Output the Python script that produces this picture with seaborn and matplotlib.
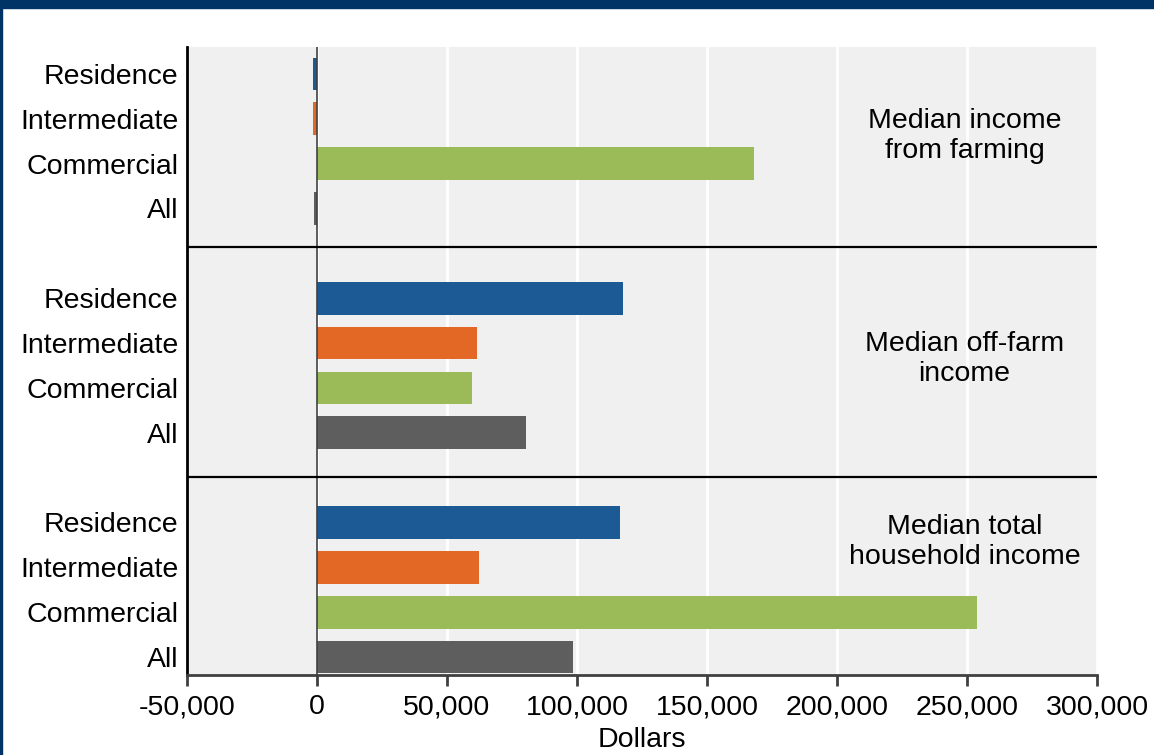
import matplotlib
matplotlib.use('Agg')
import matplotlib.pyplot as plt
import matplotlib.patches as mpatches
import numpy as np
import pandas as pd
import seaborn as sns

# data (dollars)
farm_types = ['Residence', 'Intermediate', 'Commercial', 'All']
panels = ['Median income\nfrom farming', 'Median off-farm\nincome',
          'Median total\nhousehold income']
farming_income = [-1500, -1400, 168000, -1000]
offfarm_income = [117700, 61500, 59600, 80400]
total_income = [116500, 62300, 253800, 98500]
x_ticks = [-50000, 0, 50000, 100000, 150000, 200000, 250000, 300000]

colors = {'Residence': '#1b5a94', 'Intermediate': '#e36725',
          'Commercial': '#9bbb59', 'All': '#5e5e5e'}

# one row per bar, rows of each panel stacked with a two-row gap
rows = []
for p, vals in enumerate([farming_income, offfarm_income, total_income]):
    for i, (ft, v) in enumerate(zip(farm_types, vals)):
        rows.append({'farm_type': ft, 'value': v, 'pos': p * 5 + i, 'panel': panels[p]})
df = pd.DataFrame(rows)

sns.set_style('white')
plt.rcParams['font.family'] = ['Liberation Sans', 'DejaVu Sans']
plt.rcParams['text.color'] = 'black'
plt.rcParams['axes.labelcolor'] = 'black'
plt.rcParams['xtick.labelcolor'] = 'black'
plt.rcParams['ytick.labelcolor'] = 'black'

fig = plt.figure(figsize=(11.54, 7.55), dpi=100)
ax = fig.add_axes([0.162, 0.106, 0.7887, 0.8318])
ax.set_facecolor('#f0f0f0')

sns.barplot(data=df, x='value', y='pos', hue='farm_type', orient='h',
            native_scale=True, palette=colors, width=0.73, dodge=False,
            errorbar=None, legend=False, saturation=1, linewidth=0, ax=ax)

ax.set_xlim(-50000, 300000)
ax.set_ylim(13.40, -0.60)
ax.set_xticks(x_ticks, [f'{t:,}' for t in x_ticks])
ax.set_yticks(df['pos'], df['farm_type'])
ax.grid(axis='x', color='white', lw=2)
ax.grid(axis='y', visible=False)
ax.set_axisbelow(True)

ax.axvline(0, color='#404040', lw=1.2, zorder=3)
for y in [3.86, 8.99]:
    ax.axhline(y, color='black', lw=1.6, zorder=3)

# panel labels
label_y = [1.38, 6.35, 10.43]
for name, y in zip(panels, label_y):
    ax.text(249000, y, name, ha='center', va='center',
            fontsize=20.5, linespacing=1.22)

for s in ['top', 'right']:
    ax.spines[s].set_visible(False)
ax.spines['left'].set_color('black')
ax.spines['left'].set_linewidth(2)
ax.spines['bottom'].set_color('#404040')
ax.spines['bottom'].set_linewidth(2)
ax.tick_params(axis='y', length=0, pad=6, labelsize=20.5)
ax.tick_params(axis='x', direction='out', length=8, width=2, color='#404040',
               labelsize=20.5, pad=6, bottom=True)
ax.set_xlabel('Dollars', fontsize=20.5, labelpad=5)
ax.set_ylabel('')

# navy frame pieces
fig.patches.append(mpatches.Rectangle((0, 1 - 8 / 755), 1, 8 / 755, transform=fig.transFigure,
                                      color='#003366', zorder=0))
fig.patches.append(mpatches.Rectangle((0, 0), 2 / 1154, 1, transform=fig.transFigure,
                                      color='#003366', zorder=0))

fig.savefig('out.png', dpi=100)
